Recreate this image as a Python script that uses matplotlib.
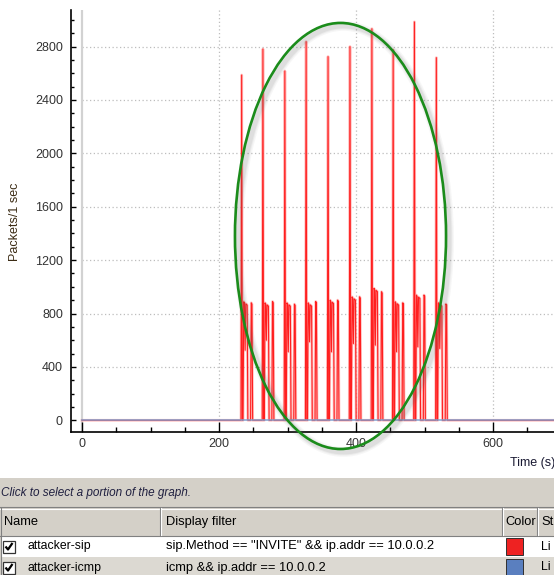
import matplotlib
matplotlib.use("Agg")
import matplotlib.pyplot as plt
from matplotlib.patches import Ellipse, Rectangle
from matplotlib.transforms import offset_copy
from matplotlib.ticker import MultipleLocator

# values (one burst every ~31 s)
burst_time = [233, 264, 296, 327, 359, 391, 423, 454, 485, 517]
burst_peak = [2587, 2782, 2617, 2837, 2725, 2800, 2934, 2775, 2985, 2717]
burst_plateau = [888, 880, 880, 880, 900, 925, 989, 888, 938, 880]
burst_dip = [525, 600, 513, 588, 513, 575, 563, 513, 550, 538]
burst_second = [880, 890, 870, 890, 900, 925, 963, 880, 938, 871]

x_ticks = [0, 200, 400, 600]
y_ticks = [0, 400, 800, 1200, 1600, 2000, 2400, 2800]

graph_names = ["attacker-sip", "attacker-icmp"]
graph_filters = ['sip.Method == "INVITE" && ip.addr == 10.0.0.2',
                 "icmp && ip.addr == 10.0.0.2"]
graph_colors = ["#ee2222", "#5a7fbf"]

# build the sip line: every burst has the same shape
sip_t, sip_v = [0], [0]
for t0, pk, pl, dp, sc in zip(burst_time, burst_peak, burst_plateau, burst_dip, burst_second):
    sip_t += [t0 - 1, t0, t0 + 1, t0 + 2, t0 + 3, t0 + 4, t0 + 5, t0 + 6, t0 + 8, t0 + 9,
              t0 + 13, t0 + 14, t0 + 15, t0 + 16]
    sip_v += [0, pk, 0, 0, pl, pl - 10, dp, pl - 15, pl - 25, 0, 0, sc, sc - 10, 0]
sip_t.append(720)
sip_v.append(0)
icmp_t = [0, 720]
icmp_v = [0, 0]

W, H = 554, 575
fig = plt.figure(figsize=(W / 100, H / 100), dpi=100)
fig.patch.set_facecolor("white")

# panel underneath (pixel coordinates)
bg = fig.add_axes([0, 0, 1, 1], zorder=-1)
bg.set_xlim(0, W)
bg.set_ylim(H, 0)
bg.axis("off")

ax = fig.add_axes([71 / W, (H - 431.7) / H, (W - 71) / W, (431.7 - 10) / H])
ax.set_xlim(-16.05, 688.7)
ax.set_ylim(-85.4, 3074)

for s in ["top", "right"]:
    ax.spines[s].set_visible(False)
for s in ["left", "bottom"]:
    ax.spines[s].set_linewidth(1.2)
    ax.spines[s].set_color("black")

ax.xaxis.set_major_locator(MultipleLocator(200))
ax.xaxis.set_minor_locator(MultipleLocator(50))
ax.yaxis.set_major_locator(MultipleLocator(400))
ax.yaxis.set_minor_locator(MultipleLocator(100))
ax.set_xticks(x_ticks)
ax.set_yticks(y_ticks)
ax.tick_params(axis="x", which="major", direction="in", length=7, width=1, pad=4.8,
               labelsize=9, labelcolor="#333333")
ax.tick_params(axis="x", which="minor", direction="in", length=3.5, width=1)
ax.tick_params(axis="y", which="major", direction="in", length=3.5, width=1, pad=5.8,
               labelsize=9, labelcolor="#333333")
ax.tick_params(axis="y", which="minor", direction="in", length=2, width=1)
for lab in ax.get_xticklabels() + ax.get_yticklabels():
    lab.set_family("Liberation Sans")

# grid (only in the x>=0, y>=0 region) and the zero line
grid_style = dict(color="#bdbdbd", linewidth=0.9, linestyle=(0, (1, 2)), zorder=1)
ax.hlines(y_ticks[1:], 0, 720, **grid_style)
ax.vlines(x_ticks[1:], 0, 3074, **grid_style)
ax.axvline(0, color="#d2d2d2", linewidth=1.6, zorder=1)

ax.plot(sip_t, sip_v, color="#ff9a9a", linewidth=2.0, alpha=0.6, zorder=2)
ax.plot(sip_t, sip_v, color="#ff1f1f", linewidth=0.8, zorder=3)
ax.plot(icmp_t, icmp_v, color="#7b9fd0", linewidth=1.3, alpha=0.8, zorder=4)

fig.text(15 / W, 1 - 221.7 / H, "Packets/1 sec", rotation=90, ha="center", va="center",
         fontsize=9, family="Liberation Sans", color="#3b2b14")
fig.text(510 / W, 1 - 463 / H, "Time (s)", ha="left", va="center",
         fontsize=9, family="Liberation Sans", color="#1a1a33")

# green ellipse with a soft shadow
ecx, ecy, ew, eh = 377.2, 1381, 308, 3192
for lw, a in [(7, 0.05), (5, 0.07), (3.5, 0.09)]:
    tr = offset_copy(ax.transData, fig=fig, x=3, y=-3, units="dots")
    ax.add_patch(Ellipse((ecx, ecy), ew, eh, fill=False, edgecolor="#606060",
                         linewidth=lw, alpha=a, transform=tr, clip_on=False, zorder=5))
ax.add_patch(Ellipse((ecx, ecy), ew, eh, fill=False, edgecolor="#1b8c1b",
                     linewidth=1.9, clip_on=False, zorder=6))

# bottom panel
panel = "#d4d0c8"
bg.add_patch(Rectangle((0, 478), W, H - 478, facecolor=panel, edgecolor="none"))
bg.text(1, 493, "Click to select a portion of the graph.", style="italic", fontsize=8.5,
        family="Liberation Sans", color="#202040", va="center")
# header
bg.add_patch(Rectangle((0, 507), W, 28, facecolor=panel, edgecolor="none"))
bg.plot([0, W], [507, 507], color="#808080", linewidth=0.8)
bg.plot([0, W], [535.5, 535.5], color="#808080", linewidth=0.8)
bg.plot([0, W], [508.5, 508.5], color="white", linewidth=0.8)
for xs in [160, 502, 537]:
    bg.plot([xs, xs], [508, 535], color="#808080", linewidth=0.8)
    bg.plot([xs + 1.2, xs + 1.2], [508, 535], color="white", linewidth=0.8)
bg.plot([1, 1], [508, 575], color="#808080", linewidth=0.8)
headers = ["Name", "Display filter", "Color", "St"]
for hx, h in zip([4, 166, 505, 541], headers):
    bg.text(hx, 522, h, fontsize=9.3, family="Liberation Sans", color="black", va="center")

row_top = [536, 557]
row_bg = ["white", "#dcd9d2"]
for i, name in enumerate(graph_names):
    y0 = row_top[i]
    bg.add_patch(Rectangle((1.5, y0), W, 21, facecolor=row_bg[i], edgecolor="none"))
    yc = y0 + 10.5
    bg.add_patch(Rectangle((3, yc - 6), 12, 12, facecolor="white", edgecolor="#333333",
                           linewidth=0.9))
    bg.plot([5.5, 8, 12.5], [yc, yc + 3, yc - 3.5], color="black", linewidth=1.6,
            solid_capstyle="butt")
    bg.text(27, yc, name, fontsize=8.8, family="Liberation Sans", color="black", va="center")
    bg.text(166, yc, graph_filters[i], fontsize=9.3, family="Liberation Sans",
            color="black", va="center")
    bg.add_patch(Rectangle((506, y0 + 2), 17, 17, facecolor=graph_colors[i],
                           edgecolor="#303030", linewidth=0.7))
    bg.text(541, yc, "Li", fontsize=8.8, family="Liberation Sans", color="black", va="center")

fig.savefig("out.png", dpi=100)
